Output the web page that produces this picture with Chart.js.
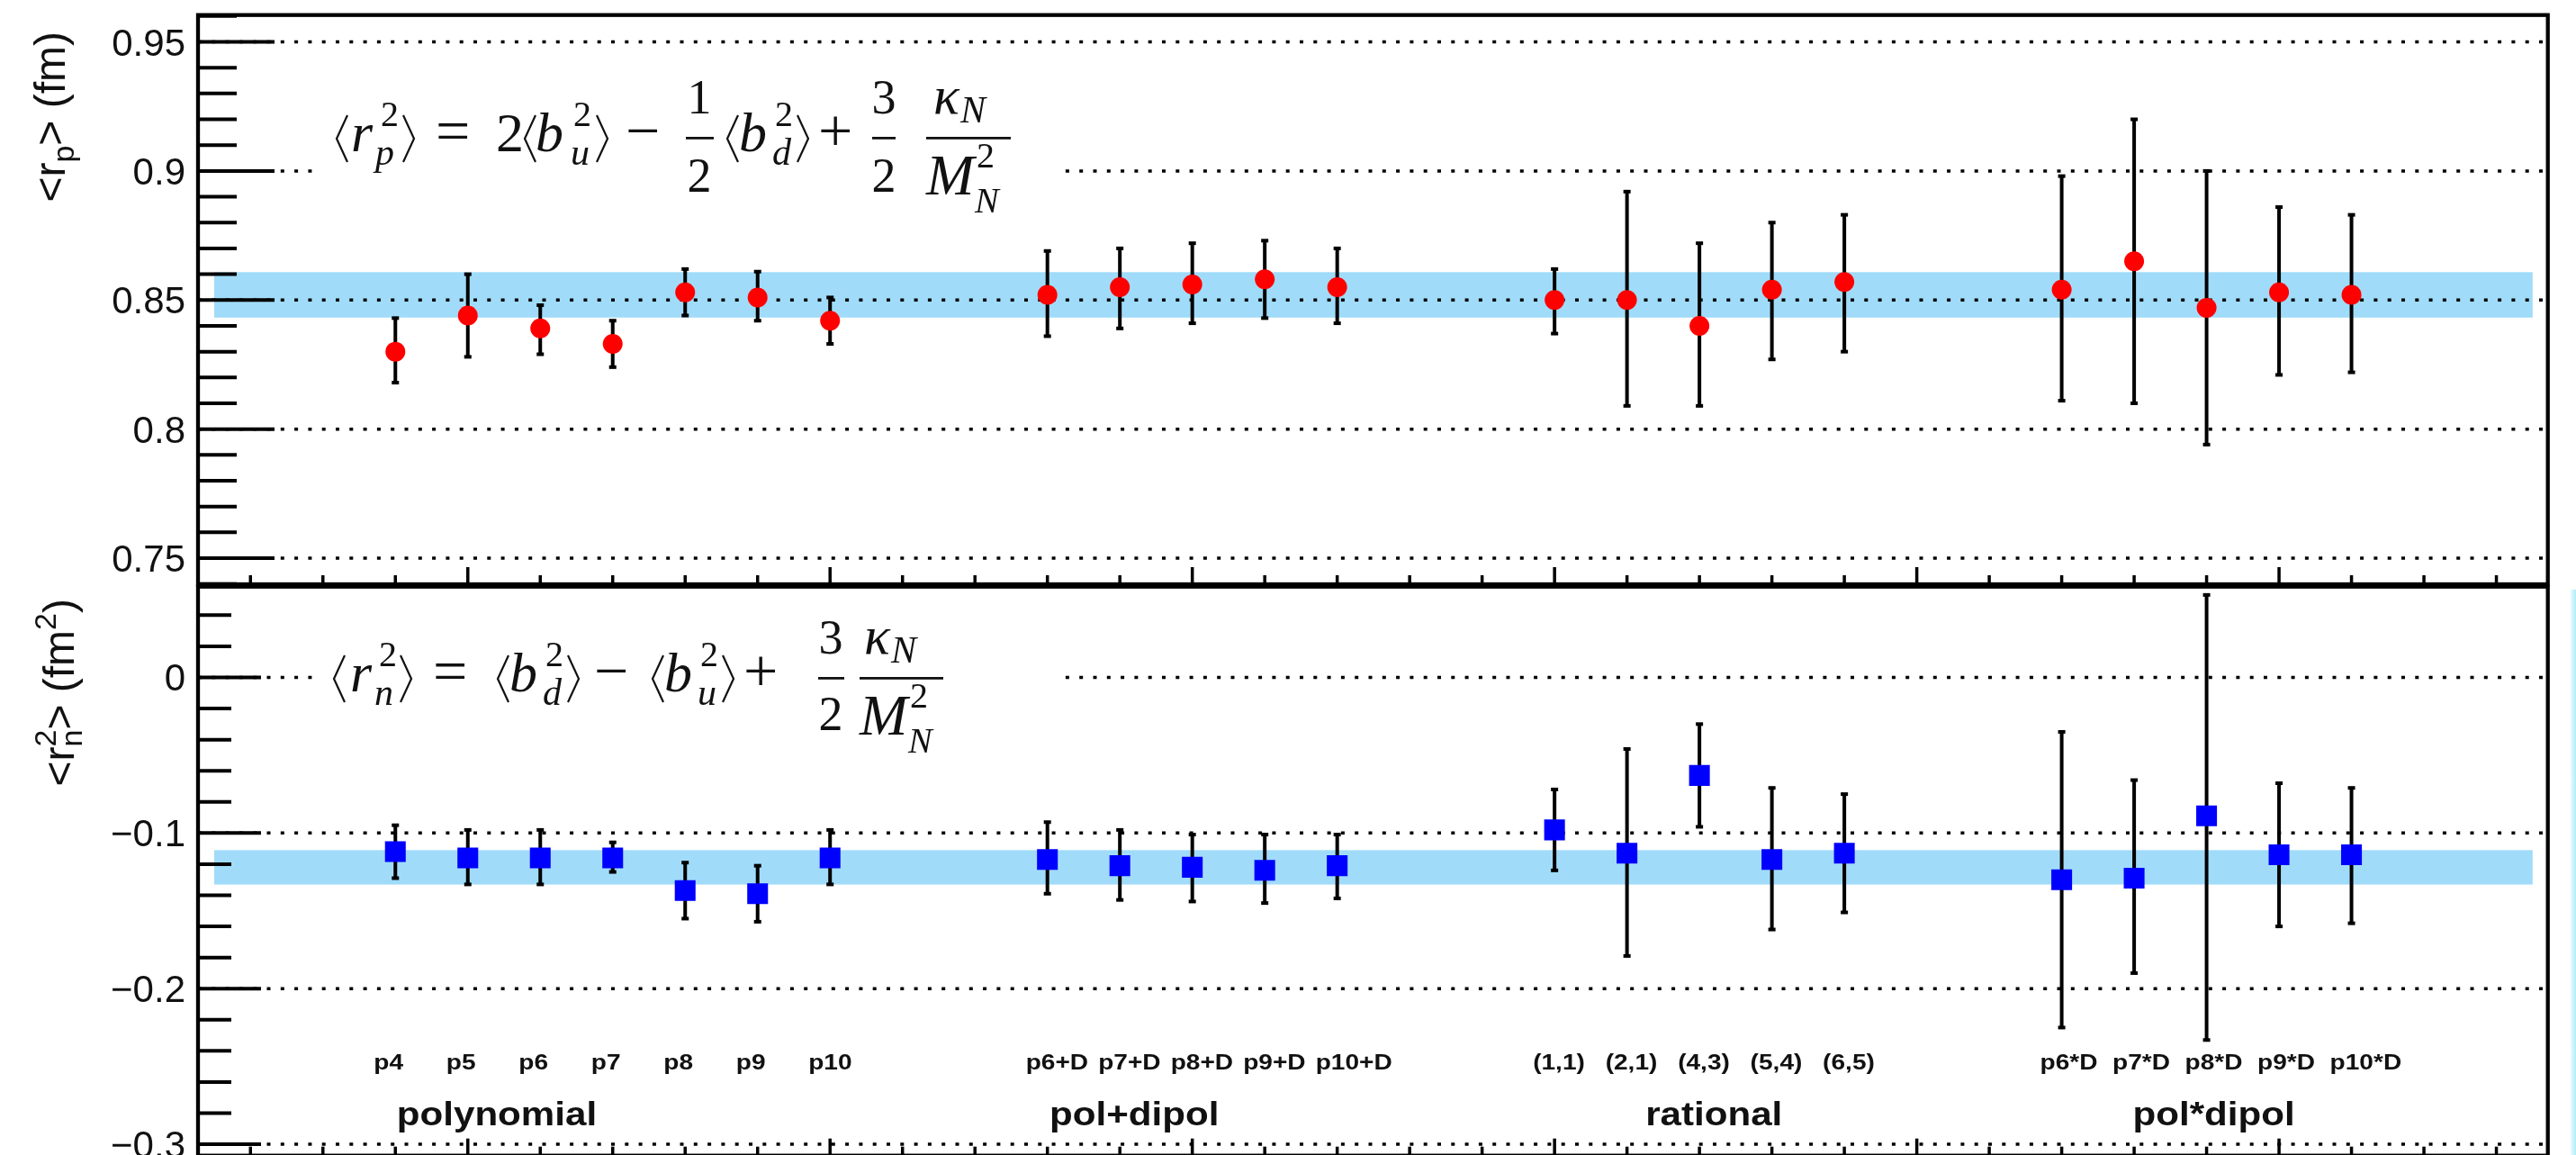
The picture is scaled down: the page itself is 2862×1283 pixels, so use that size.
<!DOCTYPE html>
<html>
<head>
<meta charset="utf-8">
<script src="https://cdn.jsdelivr.net/npm/chart.js@4.4.1/dist/chart.umd.min.js"></script>
<style>
  html, body { margin: 0; padding: 0; background: #fff; overflow: hidden; }
  #wrap { position: relative; width: 2862px; height: 1283px; overflow: hidden; }
  #wrap canvas { position: absolute; left: 0; top: 0; }
  #edge { position: absolute; left: 2856px; top: 655px; width: 6px; height: 628px;
          background: linear-gradient(to right, #e6fbfe, #b2eef8); }
</style>
</head>
<body>
<div id="wrap">
  <canvas id="top" width="2862" height="660"></canvas>
  <canvas id="bottom" width="2862" height="1300"></canvas>
  <div id="edge"></div>
</div>
<script>
// fit models and their slot on the x axis
const models = ['p4', 'p5', 'p6', 'p7', 'p8', 'p9', 'p10',
  'p6+D', 'p7+D', 'p8+D', 'p9+D', 'p10+D',
  '(1,1)', '(2,1)', '(4,3)', '(5,4)', '(6,5)',
  'p6*D', 'p7*D', 'p8*D', 'p9*D', 'p10*D'];
const modelPos = [4, 5, 6, 7, 8, 9, 10, 13, 14, 15, 16, 17, 20, 21, 22, 23, 24, 27, 28, 29, 30, 31];
const groups = ['polynomial', 'pol+dipol', 'rational', 'pol*dipol'];
const groupPos = [5.4, 14.2, 22.2, 29.1];

// <r_p> (fm)
const rp   = [0.830, 0.844, 0.839, 0.833, 0.853, 0.851, 0.842, 0.852, 0.855, 0.856, 0.858, 0.855, 0.850, 0.850, 0.840, 0.854, 0.857, 0.854, 0.865, 0.847, 0.853, 0.852];
const rpLo = [0.818, 0.828, 0.829, 0.824, 0.844, 0.842, 0.833, 0.836, 0.839, 0.841, 0.843, 0.841, 0.837, 0.809, 0.809, 0.827, 0.830, 0.811, 0.810, 0.794, 0.821, 0.822];
const rpHi = [0.843, 0.860, 0.848, 0.842, 0.862, 0.861, 0.851, 0.869, 0.870, 0.872, 0.873, 0.870, 0.862, 0.892, 0.872, 0.880, 0.883, 0.898, 0.920, 0.900, 0.886, 0.883];
const rpBand = [0.8432, 0.8608];

// <r_n^2> (fm^2)
const rn2   = [-0.112, -0.116, -0.116, -0.116, -0.137, -0.139, -0.116, -0.117, -0.121, -0.122, -0.124, -0.121, -0.098, -0.113, -0.063, -0.117, -0.113, -0.130, -0.129, -0.089, -0.114, -0.114];
const rn2Lo = [-0.129, -0.133, -0.133, -0.125, -0.155, -0.157, -0.133, -0.139, -0.143, -0.144, -0.145, -0.142, -0.124, -0.179, -0.096, -0.162, -0.151, -0.225, -0.190, -0.233, -0.160, -0.158];
const rn2Hi = [-0.095, -0.098, -0.098, -0.106, -0.119, -0.121, -0.098, -0.093, -0.098, -0.101, -0.101, -0.101, -0.072, -0.046, -0.030, -0.071, -0.075, -0.035, -0.066, 0.053, -0.068, -0.071];
const rn2Band = [-0.1331, -0.1110];

const rpTicks = [0.75, 0.8, 0.85, 0.9, 0.95];
const rpTickLabels = ['0.75', '0.8', '0.85', '0.9', '0.95'];
const rn2Ticks = [-0.3, -0.2, -0.1, 0];
const rn2TickLabels = ['\u22120.3', '\u22120.2', '\u22120.1', '0'];

const SANS = '"Liberation Sans", Arial, Helvetica, sans-serif';
const SERIF = '"Liberation Serif", "Times New Roman", serif';

// formula pieces: T text (left), C text (centred), L/R angle brackets, B fraction bar
const rpFormula = [
  {k: 'L', x: 0}, {k: 'T', s: 'r', x: 17, s1: 62, it: 1},
  {k: 'T', s: '2', x: 50, dy: -28, s1: 40}, {k: 'T', s: 'p', x: 44, dy: 15, s1: 42, it: 1},
  {k: 'R', x: 74}, {k: 'T', s: '=', x: 111, s1: 68}, {k: 'T', s: '2', x: 178, s1: 62},
  {k: 'L', x: 209}, {k: 'T', s: 'b', x: 222, s1: 62, it: 1},
  {k: 'T', s: '2', x: 264, dy: -28, s1: 40}, {k: 'T', s: 'u', x: 261, dy: 15, s1: 42, it: 1},
  {k: 'R', x: 289}, {k: 'T', s: '\u2212', x: 322, s1: 68},
  {k: 'C', s: '1', x: 404, dy: -42, s1: 54}, {k: 'B', x: 389, x2: 420}, {k: 'C', s: '2', x: 404, dy: 45, s1: 54},
  {k: 'L', x: 434}, {k: 'T', s: 'b', x: 448, s1: 62, it: 1},
  {k: 'T', s: '2', x: 488, dy: -28, s1: 40}, {k: 'T', s: 'd', x: 485, dy: 15, s1: 42, it: 1},
  {k: 'R', x: 512}, {k: 'T', s: '+', x: 536, s1: 68},
  {k: 'C', s: '3', x: 609, dy: -42, s1: 54}, {k: 'B', x: 596, x2: 622}, {k: 'C', s: '2', x: 609, dy: 45, s1: 54},
  {k: 'T', s: '\u03ba', x: 664, dy: -42, s1: 60, it: 1}, {k: 'T', s: 'N', x: 694, dy: -32, s1: 42, it: 1},
  {k: 'B', x: 656, x2: 750},
  {k: 'T', s: 'M', x: 656, dy: 48, s1: 64, it: 1}, {k: 'T', s: '2', x: 712, dy: 18, s1: 40},
  {k: 'T', s: 'N', x: 710, dy: 68, s1: 40, it: 1}
];
const rn2Formula = [
  {k: 'L', x: 0}, {k: 'T', s: 'r', x: 19, s1: 62, it: 1},
  {k: 'T', s: '2', x: 51, dy: -28, s1: 40}, {k: 'T', s: 'n', x: 46, dy: 15, s1: 42, it: 1},
  {k: 'R', x: 74}, {k: 'T', s: '=', x: 111, s1: 68},
  {k: 'L', x: 182}, {k: 'T', s: 'b', x: 196, s1: 62, it: 1},
  {k: 'T', s: '2', x: 236, dy: -28, s1: 40}, {k: 'T', s: 'd', x: 233, dy: 15, s1: 42, it: 1},
  {k: 'R', x: 260}, {k: 'T', s: '\u2212', x: 290, s1: 68},
  {k: 'L', x: 354}, {k: 'T', s: 'b', x: 368, s1: 62, it: 1},
  {k: 'T', s: '2', x: 408, dy: -28, s1: 40}, {k: 'T', s: 'u', x: 405, dy: 15, s1: 42, it: 1},
  {k: 'R', x: 432}, {k: 'T', s: '+', x: 456, s1: 68},
  {k: 'C', s: '3', x: 553, dy: -42, s1: 54}, {k: 'B', x: 539, x2: 568}, {k: 'C', s: '2', x: 553, dy: 43, s1: 54},
  {k: 'T', s: '\u03ba', x: 590, dy: -42, s1: 60, it: 1}, {k: 'T', s: 'N', x: 620, dy: -32, s1: 42, it: 1},
  {k: 'B', x: 585, x2: 678},
  {k: 'T', s: 'M', x: 585, dy: 48, s1: 64, it: 1}, {k: 'T', s: '2', x: 641, dy: 18, s1: 40},
  {k: 'T', s: 'N', x: 639, dy: 68, s1: 40, it: 1}
];

function drawFormula(ctx, x0, base, items) {
  ctx.save();
  ctx.fillStyle = '#111';
  ctx.strokeStyle = '#111';
  ctx.textBaseline = 'alphabetic';
  for (const p of items) {
    const x = x0 + p.x;
    const y = base + (p.dy || 0);
    if (p.k === 'L' || p.k === 'R') {
      ctx.lineWidth = 2.2;
      ctx.beginPath();
      if (p.k === 'L') {
        ctx.moveTo(x + 13, base - 40); ctx.lineTo(x + 1, base - 14); ctx.lineTo(x + 13, base + 12);
      } else {
        ctx.moveTo(x + 1, base - 40); ctx.lineTo(x + 13, base - 14); ctx.lineTo(x + 1, base + 12);
      }
      ctx.stroke();
    } else if (p.k === 'B') {
      ctx.fillRect(x, base - 16, p.x2 - p.x, 2.8);
    } else {
      ctx.font = (p.it ? 'italic ' : '') + p.s1 + 'px ' + SERIF;
      ctx.textAlign = p.k === 'C' ? 'center' : 'left';
      ctx.fillText(p.s, x, y);
    }
  }
  ctx.restore();
}

// rotated axis title built from pieces {s, size, dy, adv}
function axisTitle(ctx, xBase, yTop, parts) {
  ctx.save();
  ctx.translate(xBase, yTop);
  ctx.rotate(-Math.PI / 2);
  ctx.fillStyle = '#111';
  ctx.textAlign = 'left';
  ctx.textBaseline = 'alphabetic';
  let w = 0;
  for (const p of parts) {
    ctx.font = p.size + 'px ' + SANS;
    if (p.adv !== false) w += ctx.measureText(p.s).width;
  }
  let cx = -w;
  for (const p of parts) {
    ctx.font = p.size + 'px ' + SANS;
    ctx.fillText(p.s, cx, p.dy || 0);
    if (p.adv !== false) cx += ctx.measureText(p.s).width;
  }
  ctx.restore();
}

function panelPlugin(o) {
  return {
    id: 'rootPanel',
    beforeDatasetsDraw(chart) {
      const {ctx, chartArea: a, scales: {x, y}} = chart;
      ctx.save();
      // averaged band
      ctx.fillStyle = 'rgb(160, 220, 250)';
      const bx1 = x.getPixelForValue(1.5), bx2 = x.getPixelForValue(33.5);
      const by1 = y.getPixelForValue(o.band[1]), by2 = y.getPixelForValue(o.band[0]);
      ctx.fillRect(bx1, by1, bx2 - bx1, by2 - by1);
      // dotted grid at the labelled ticks
      ctx.strokeStyle = '#000';
      ctx.lineWidth = 3.5;
      ctx.setLineDash([4, 11.3]);
      for (const v of o.ticks) {
        const py = y.getPixelForValue(v);
        ctx.beginPath(); ctx.moveTo(a.left, py); ctx.lineTo(a.right, py); ctx.stroke();
      }
      ctx.setLineDash([]);
      // formula on its own white pave
      ctx.fillStyle = '#fff';
      ctx.fillRect(352, o.paveTop, 830, o.paveH);
      drawFormula(ctx, o.fx, o.fy, o.formula);
      // error bars
      ctx.strokeStyle = '#000';
      ctx.fillStyle = '#000';
      ctx.lineWidth = 4;
      modelPos.forEach((p, i) => {
        const px = x.getPixelForValue(p);
        const y1 = y.getPixelForValue(o.lo[i]), y2 = y.getPixelForValue(o.hi[i]);
        ctx.beginPath(); ctx.moveTo(px, y1); ctx.lineTo(px, y2); ctx.stroke();
        ctx.fillRect(px - 4, y1 - 2, 8, 4);
        ctx.fillRect(px - 4, y2 - 2, 8, 4);
      });
      ctx.restore();
    },
    afterDraw(chart) {
      const {ctx, chartArea: a, scales: {x, y}} = chart;
      ctx.save();
      ctx.strokeStyle = '#000';
      ctx.fillStyle = '#000';
      // y ticks, major and minor
      ctx.lineWidth = 4;
      const k0 = Math.ceil(y.min / o.minor - 1e-6), k1 = Math.floor(y.max / o.minor + 1e-6);
      for (let k = k0; k <= k1; k++) {
        const v = k * o.minor;
        const major = o.ticks.some(t => Math.abs(t - v) < o.minor / 10);
        const py = y.getPixelForValue(v);
        ctx.beginPath(); ctx.moveTo(a.left, py); ctx.lineTo(a.left + (major ? o.majorLen : o.minorLen), py); ctx.stroke();
      }
      // x ticks along the lower edge
      ctx.lineWidth = 3.5;
      for (let k = 2; k <= 33; k++) {
        const px = x.getPixelForValue(k);
        ctx.beginPath(); ctx.moveTo(px, a.bottom); ctx.lineTo(px, a.bottom - (k % 5 === 0 ? 19 : 10)); ctx.stroke();
      }
      // frame
      ctx.lineWidth = 4.3;
      ctx.strokeRect(a.left, a.top, a.right - a.left, a.bottom - a.top);
      // tick labels
      ctx.fillStyle = '#111';
      ctx.font = '42px ' + SANS;
      ctx.textAlign = 'right';
      ctx.textBaseline = 'alphabetic';
      o.ticks.forEach((v, i) => ctx.fillText(o.tickLabels[i], 206, y.getPixelForValue(v) + 15));
      axisTitle(ctx, o.titleX, o.titleY, o.title);
      if (o.names) {
        // model names and family names
        ctx.textAlign = 'left';
        ctx.font = 'bold 24px ' + SANS;
        models.forEach((m, i) => {
          ctx.save();
          ctx.translate(x.getPixelForValue(modelPos[i]) - 24, 1188);
          ctx.scale(1.17, 1);
          ctx.fillText(m, 0, 0);
          ctx.restore();
        });
        ctx.textAlign = 'center';
        ctx.font = 'bold 36px ' + SANS;
        groups.forEach((g, i) => {
          ctx.save();
          ctx.translate(x.getPixelForValue(groupPos[i]), 1250);
          ctx.scale(1.17, 1);
          ctx.fillText(g, 0, 0);
          ctx.restore();
        });
      }
      ctx.restore();
    }
  };
}

function makeChart(id, values, style, yMin, yMax, pad, cfg) {
  return new Chart(document.getElementById(id), {
    type: 'scatter',
    data: {
      datasets: [{
        data: modelPos.map((p, i) => ({x: p, y: values[i]})),
        pointStyle: style.shape,
        pointRadius: style.r,
        pointHoverRadius: style.r,
        backgroundColor: style.color,
        borderColor: style.color,
        borderWidth: 0
      }]
    },
    options: {
      responsive: false,
      animation: false,
      devicePixelRatio: 1,
      events: [],
      layout: {padding: pad},
      plugins: {legend: {display: false}, tooltip: {enabled: false}},
      scales: {
        x: {type: 'linear', min: 1.276, max: 33.71, display: false},
        y: {type: 'linear', min: yMin, max: yMax, display: false}
      }
    },
    plugins: [panelPlugin(cfg)]
  });
}

makeChart('top', rp, {shape: 'circle', r: 11, color: '#ff0000'}, 0.7399, 0.9604,
  {left: 220, right: 31.3, top: 16.7, bottom: 8.3},
  {
    band: rpBand, lo: rpLo, hi: rpHi, ticks: rpTicks, tickLabels: rpTickLabels,
    minor: 0.01, majorLen: 85, minorLen: 43,
    paveTop: 60, paveH: 200, fx: 373, fy: 168, formula: rpFormula,
    titleX: 72, titleY: 35,
    title: [{s: '<r', size: 48}, {s: 'p', size: 34, dy: 10}, {s: '> (fm)', size: 48}]
  });

makeChart('bottom', rn2, {shape: 'rect', r: 16.3, color: '#0000ff'}, -0.3073, 0.0583,
  {left: 220, right: 31.3, top: 651.7, bottom: 15},
  {
    band: rn2Band, lo: rn2Lo, hi: rn2Hi, ticks: rn2Ticks, tickLabels: rn2TickLabels,
    minor: 0.02, majorLen: 70, minorLen: 37,
    paveTop: 668, paveH: 180, fx: 370, fy: 768, formula: rn2Formula,
    titleX: 82, titleY: 665, names: true,
    title: [{s: '<r', size: 48}, {s: '2', size: 34, dy: -20, adv: false}, {s: 'n', size: 34, dy: 9},
            {s: '> (fm', size: 48}, {s: '2', size: 34, dy: -20}, {s: ')', size: 48}]
  });
</script>
</body>
</html>
